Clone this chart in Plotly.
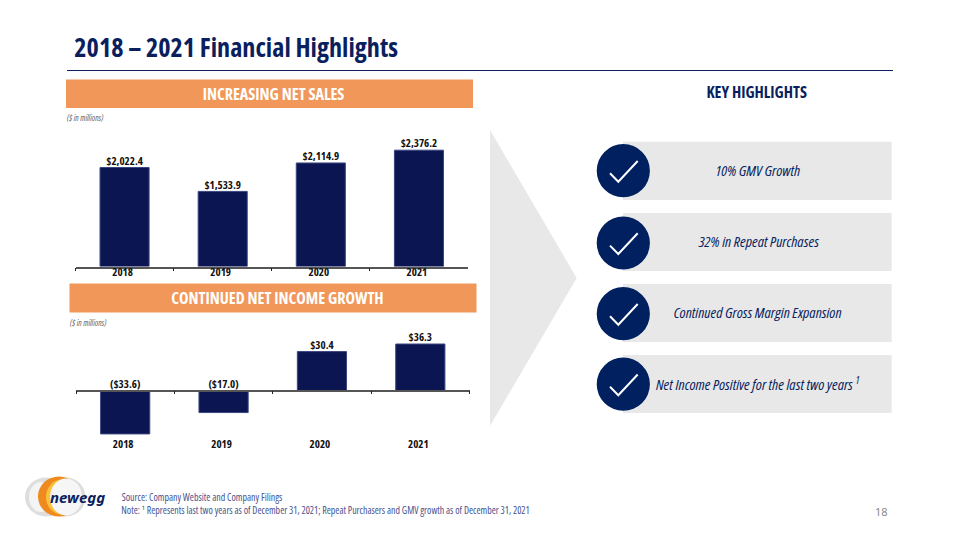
import plotly.graph_objects as go

YEARS = ["2018", "2019", "2020", "2021"]
NET_SALES = [2022.4, 1533.9, 2114.9, 2376.2]
NET_SALES_LABELS = ["$2,022.4", "$1,533.9", "$2,114.9", "$2,376.2"]
NET_INCOME = [-33.6, -17.0, 30.4, 36.3]
NET_INCOME_LABELS = ["($33.6)", "($17.0)", "$30.4", "$36.3"]
HIGHLIGHTS = ["10% GMV Growth", "32% in Repeat Purchases", "Continued Gross Margin Expansion",
              "Net Income Positive for the last two years <sup>1</sup>"]
TITLE = "2018 – 2021 Financial Highlights"

W, H = 960, 540
NAVY = "#0A1551"
TITLE_C = "#0B1F5E"
ORANGE = "#F19759"
GREY = "#E8E8E8"
CIRCLE = "#002060"
FOOT = "#465290"
COND = "Open Sans, sans-serif"
WIDE = "Noto Sans, sans-serif"

def px(x): return x / W
def py(y): return 1 - y / H
def dom(a, b, total): return [a / total, b / total]

fig = go.Figure()
shapes, anns = [], []

def rect(x0, y0, x1, y1, color):
    shapes.append(dict(type="rect", xref="paper", yref="paper", x0=px(x0), x1=px(x1), y0=py(y1), y1=py(y0),
                       fillcolor=color, line=dict(width=0), layer="below"))

def circle(cx, cy, rx, ry, color):
    shapes.append(dict(type="circle", xref="paper", yref="paper", x0=px(cx - rx), x1=px(cx + rx),
                       y0=py(cy + ry), y1=py(cy - ry), fillcolor=color, line=dict(width=0), layer="below"))

def poly(pts, color=None, line=None, closed=True):
    d = "M" + " L".join(f"{px(x):.5f},{py(y):.5f}" for x, y in pts) + (" Z" if closed else "")
    shapes.append(dict(type="path", xref="paper", yref="paper", path=d,
                       fillcolor=color or "rgba(0,0,0,0)", line=line or dict(width=0), layer="below"))

def text(x, y, s, size, color, family=COND, weight=None, style=None):
    f = dict(size=size, color=color, family=family)
    if weight: f["weight"] = weight
    if style: f["style"] = style
    anns.append(dict(xref="paper", yref="paper", x=px(x), y=py(y), text=s, showarrow=False, font=f,
                     xanchor="center", yanchor="middle"))

BAR_MARK = dict(color=NAVY, line=dict(color="#3C4680", width=1))
LABEL_FONT = dict(size=11, color="#111", family=COND, weight="bold")

fig.add_trace(go.Bar(x=YEARS, y=NET_SALES, marker=BAR_MARK, width=0.5,
                     xaxis="x", yaxis="y", showlegend=False, hoverinfo="skip"))
fig.add_trace(go.Scatter(x=YEARS, y=NET_SALES, mode="text", text=NET_SALES_LABELS,
                         textposition="top center", cliponaxis=False, showlegend=False, hoverinfo="skip",
                         textfont=LABEL_FONT, xaxis="x", yaxis="y"))
fig.add_trace(go.Bar(x=YEARS, y=NET_INCOME, showlegend=False, hoverinfo="skip",
                     marker=BAR_MARK, width=0.5, xaxis="x2", yaxis="y2"))
fig.add_trace(go.Scatter(x=YEARS, y=[max(v, 0) for v in NET_INCOME], mode="text", text=NET_INCOME_LABELS,
                         textposition="top center", cliponaxis=False, showlegend=False, hoverinfo="skip",
                         textfont=LABEL_FONT, xaxis="x2", yaxis="y2"))
fig.add_trace(go.Scatter(x=YEARS, y=[0, 0, 0, 0], mode="markers", marker=dict(opacity=0), showlegend=False,
                         hoverinfo="skip", xaxis="x3", yaxis="y3"))

Y_TOP = 266.5
top_scale = 99.0 / 2022.4
top_h = 136.5
Y0 = 390.7
bot_scale = 46.7 / 36.3
bt, bb = 335.0, 436.0

xtick = dict(size=11, color="#111", family=COND, weight="bold")
layout_axes = dict(
    xaxis=dict(domain=dom(75.5, 468, W), type="category", categoryorder="array", categoryarray=YEARS,
               range=[-0.5, 3.5], tickson="boundaries", ticks="outside", ticklen=3, tickcolor="#222",
               showline=True, linecolor="#555", linewidth=1.5, showgrid=False, tickfont=xtick, anchor="y",
               ticklabelstandoff=-5, ticklabelshift=-2),
    yaxis=dict(domain=[py(Y_TOP), py(Y_TOP - top_h)], range=[0, top_h / top_scale], visible=False),
    xaxis2=dict(domain=dom(76, 469.5, W), type="category", categoryorder="array", categoryarray=YEARS,
                range=[-0.5, 3.5], tickson="boundaries", ticks="outside", ticklen=3, tickcolor="#222",
                showline=True, linecolor="#555", linewidth=1.5, showgrid=False, showticklabels=False,
                anchor="free", position=py(Y0)),
    yaxis2=dict(domain=[py(bb), py(bt)], range=[-(bb - Y0) / bot_scale, (Y0 - bt) / bot_scale], visible=False,
                anchor="free", position=0),
    xaxis3=dict(domain=dom(76, 469.5, W), type="category", categoryorder="array", categoryarray=YEARS,
                range=[-0.5, 3.5], showline=False, showgrid=False, ticks="", tickfont=xtick, anchor="y3",
                zeroline=False, ticklabelshift=-2),
    yaxis3=dict(domain=[py(bb), py(bt)], range=[-1, 1], visible=False, anchor="free", position=0),
)

# Header
text(236, 47, TITLE, 26.2, TITLE_C, weight="bold")
poly([(67, 70.5), (893, 70.5)], line=dict(color="#0B1F5E", width=1.2), closed=False)

# Section bands
rect(66, 79.5, 473, 108, ORANGE)
text(273.5, 93.5, "INCREASING NET SALES", 16.1, "white", weight="bold")
text(85, 117, "($ in millions)", 8.5, "#666", style="italic")
rect(69.5, 283.5, 476.5, 312.5, ORANGE)
text(277, 298, "CONTINUED NET INCOME GROWTH", 16.1, "white", weight="bold")
text(88, 322, "($ in millions)", 8.5, "#666", style="italic")

# Chevron
poly([(490, 130), (576.7, 278), (490, 426)], color=GREY)

# Key highlights
text(757, 92, "KEY HIGHLIGHTS", 16, TITLE_C, weight="bold")
ROWS = [(141.7, 200, 170.7), (213, 271, 243), (284, 342, 313.7), (355, 413, 384.2)]
LABEL_X = [757.5, 759, 757.5, 757]
for (y0, y1, cy), label, lx in zip(ROWS, HIGHLIGHTS, LABEL_X):
    rect(623, y0, 891.7, y1, GREY)
    circle(623.3, cy, 26.6, 26.6, CIRCLE)
    poly([(610, cy + 2.6), (618.3, cy + 11), (637.7, cy - 9.7)], line=dict(color="white", width=2), closed=False)
    text(lx, (y0 + y1) / 2 - 1, label, 15.2, "#0B1F5E", style="italic")

# Logo
circle(46, 497, 21, 19.5, "#DEDEDE")
circle(41, 497, 12, 15, "#F4F4F4")
circle(66, 497, 19.5, 19.5, "#DDDDDD")
circle(59, 496.5, 21, 20, "#EE8A1E")
circle(62, 497, 16, 17.5, "#F9C23C")
circle(66, 497, 16, 18.5, "#F6F6F6")
text(77, 497, "newegg", 15, "#0B1F5E", family=WIDE, weight="bold", style="italic")

# Footer
text(202, 497, "Source: Company Website and Company Filings", 9.9, FOOT)
text(325.5, 510, "Note: ¹ Represents last two years as of December 31, 2021; Repeat Purchasers and GMV growth as of December 31, 2021",
     9.9, FOOT)
text(881, 511, "18", 11, "#8A8A8A", family=WIDE)

fig.update_layout(width=W, height=H, margin=dict(l=0, r=0, t=0, b=0), paper_bgcolor="white", plot_bgcolor="rgba(0,0,0,0)",
                  barmode="overlay", showlegend=False, shapes=shapes, annotations=anns, **layout_axes)
fig.write_html("out.html", config=dict(displayModeBar=False), post_script="""
document.body.style.margin='0';
var st=document.createElement('style');st.textContent='.main-svg text{font-stretch:75%}';document.head.appendChild(st);
var gd=document.getElementById('{plot_id}');Plotly.redraw(gd);
""")
